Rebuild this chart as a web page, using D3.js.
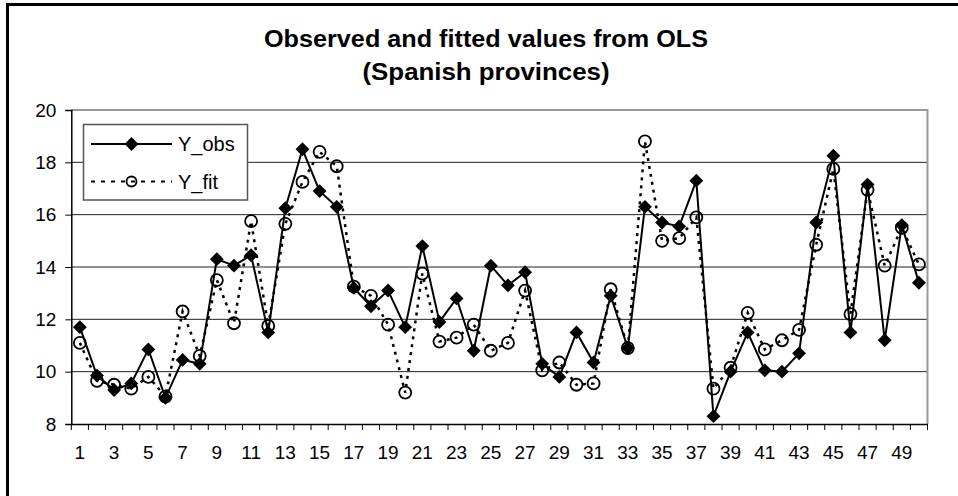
<!DOCTYPE html>
<html>
<head>
<meta charset="utf-8">
<script src="https://cdn.jsdelivr.net/npm/d3@7"></script>
<style>
  body { margin: 0; background: #fff; }
  svg { display: block; font-family: "Liberation Sans", Arial, sans-serif; }
</style>
</head>
<body>
<svg id="chart"></svg>
<script>
// provinces 1..50, observed values and OLS fitted values
const provinces = d3.range(1, 51);
const yObs = [11.7, 9.85, 9.3, 9.55, 10.85, 9.0, 10.45, 10.3, 14.3, 14.05,
              14.45, 11.5, 16.25, 18.5, 16.9, 16.3, 13.2, 12.5, 13.1, 11.7,
              14.8, 11.9, 12.8, 10.8, 14.05, 13.3, 13.8, 10.3, 9.8, 11.5,
              10.35, 12.9, 10.9, 16.3, 15.7, 15.55, 17.3, 8.3, 10.0, 11.5,
              10.05, 10.0, 10.7, 15.7, 18.25, 11.5, 17.15, 11.2, 15.6, 13.4];
const yFit = [11.1, 9.65, 9.5, 9.35, 9.8, 9.05, 12.3, 10.6, 13.5, 11.85,
              15.75, 11.75, 15.65, 17.25, 18.4, 17.85, 13.25, 12.9, 11.8, 9.2,
              13.75, 11.15, 11.3, 11.8, 10.8, 11.1, 13.1, 10.05, 10.35, 9.5,
              9.55, 13.15, 10.9, 18.8, 15.0, 15.1, 15.9, 9.35, 10.15, 12.25,
              10.85, 11.2, 11.6, 14.85, 17.75, 12.2, 16.95, 14.05, 15.5, 14.1];
const yTicks = [8, 10, 12, 14, 16, 18, 20];
const xLabels = provinces.filter(d => d % 2 === 1);
const titleLines = ["Observed and fitted values from OLS", "(Spanish provinces)"];
const legendNames = ["Y_obs", "Y_fit"];

window.addEventListener('load', () => {
    const width = 958, height = 496;
    const plot = {left: 71.3, right: 927.5, top: 110, bottom: 424};

    const svg = d3.select('#chart').attr('width', width).attr('height', height);

    // outer chart frame (cut off at right and bottom)
    svg.append('rect')
       .attr('x', 7.5).attr('y', 4.5)
       .attr('width', 970).attr('height', 510)
       .attr('fill', 'none').attr('stroke', '#000').attr('stroke-width', 3);

    // title - widths stretched a bit to match the original rendering
    const titleW = [444, 247];
    svg.append('g').selectAll('text')
       .data(titleLines).enter().append('text')
       .attr('x', 486).attr('y', (d, i) => 47 + i * 33)
       .attr('text-anchor', 'middle')
       .attr('font-size', 23).attr('font-weight', 'bold')
       .attr('textLength', (d, i) => titleW[i])
       .attr('lengthAdjust', 'spacingAndGlyphs')
       .text(d => d);

    let x = d3.scaleBand().domain(provinces).range([plot.left, plot.right]);
    let y = d3.scaleLinear().domain([8, 20]).range([plot.bottom, plot.top]);
    let cx = d => x(d) + x.bandwidth() / 2;

    // gridlines
    svg.append('g').selectAll('line')
       .data(yTicks.filter(t => t > 8 && t < 20)).enter().append('line')
       .attr('x1', plot.left).attr('x2', plot.right)
       .attr('y1', d => y(d)).attr('y2', d => y(d))
       .attr('stroke', '#222').attr('stroke-width', 1);

    // plot border top/right in grey
    svg.append('path')
       .attr('d', `M${plot.left},${y(20)}H${plot.right}V${plot.bottom}`)
       .attr('fill', 'none').attr('stroke', '#999').attr('stroke-width', 2);

    // y axis
    let yAxis = svg.append('g')
       .attr('transform', `translate(${plot.left},0)`)
       .call(d3.axisLeft(y).tickValues(yTicks).tickSize(6).tickPadding(9));
    yAxis.select('.domain').attr('stroke', '#000').attr('stroke-width', 1.5);
    yAxis.selectAll('.tick line').attr('stroke', '#000');
    yAxis.selectAll('text').attr('font-size', 19).attr('font-family', null).attr('fill', '#000');

    // x axis: labels on odd provinces, ticks at band edges
    let xAxis = svg.append('g')
       .attr('transform', `translate(0,${plot.bottom})`)
       .call(d3.axisBottom(x).tickValues(xLabels).tickSize(0).tickPadding(22));
    xAxis.select('.domain').attr('stroke', '#000').attr('stroke-width', 1.5);
    xAxis.selectAll('text').attr('font-size', 19).attr('font-family', null).attr('fill', '#000');
    svg.append('g').selectAll('line')
       .data(provinces.map(d => x(d)).concat([plot.right])).enter().append('line')
       .attr('x1', d => d).attr('x2', d => d)
       .attr('y1', plot.bottom).attr('y2', plot.bottom + 6)
       .attr('stroke', '#000');

    // square rotated 45deg = Excel diamond marker
    let diamond = d3.symbol().type(d3.symbolSquare).size(96);
    const dash = '3,5';

    // fitted series: dotted line, hollow circles
    let seriesLine = d3.line().x((d, i) => cx(provinces[i])).y(d => y(d));
    svg.append('path').datum(yFit)
       .attr('d', seriesLine)
       .attr('fill', 'none').attr('stroke', '#000')
       .attr('stroke-width', 2.5).attr('stroke-dasharray', dash);
    svg.append('g').selectAll('circle')
       .data(yFit).enter().append('circle')
       .attr('cx', (d, i) => cx(provinces[i])).attr('cy', d => y(d))
       .attr('r', 6).attr('fill', 'none')
       .attr('stroke', '#000').attr('stroke-width', 1.8);

    // observed series: solid line, diamonds
    svg.append('path').datum(yObs)
       .attr('d', seriesLine)
       .attr('fill', 'none').attr('stroke', '#000').attr('stroke-width', 2);
    svg.append('g').selectAll('path')
       .data(yObs).enter().append('path')
       .attr('d', diamond)
       .attr('transform', (d, i) => `translate(${cx(provinces[i])},${y(d)}) rotate(45)`)
       .attr('fill', '#000');

    // legend
    let legend = svg.append('g');
    legend.append('rect')
       .attr('x', 83.5).attr('y', 124.5).attr('width', 164).attr('height', 75.5)
       .attr('fill', '#fff').attr('stroke', '#555').attr('stroke-width', 1.5);
    legendNames.forEach((name, i) => {
        let ly = 144 + i * 37.5;
        let g = legend.append('g');
        g.append('line')
         .attr('x1', 91).attr('x2', 172).attr('y1', ly).attr('y2', ly)
         .attr('stroke', '#000')
         .attr('stroke-width', i ? 2.2 : 2)
         .attr('stroke-dasharray', i ? '4,6' : null);
        if (i) {
            g.append('circle').attr('cx', 131.5).attr('cy', ly).attr('r', 5)
             .attr('fill', 'none').attr('stroke', '#000').attr('stroke-width', 1.8);
        } else {
            g.append('path').attr('d', diamond)
             .attr('transform', `translate(131.5,${ly}) rotate(45)`).attr('fill', '#000');
        }
        g.append('text').attr('x', 178).attr('y', ly).attr('dy', '0.35em')
         .attr('font-size', 20).text(name);
    });
});
</script>
</body>
</html>
